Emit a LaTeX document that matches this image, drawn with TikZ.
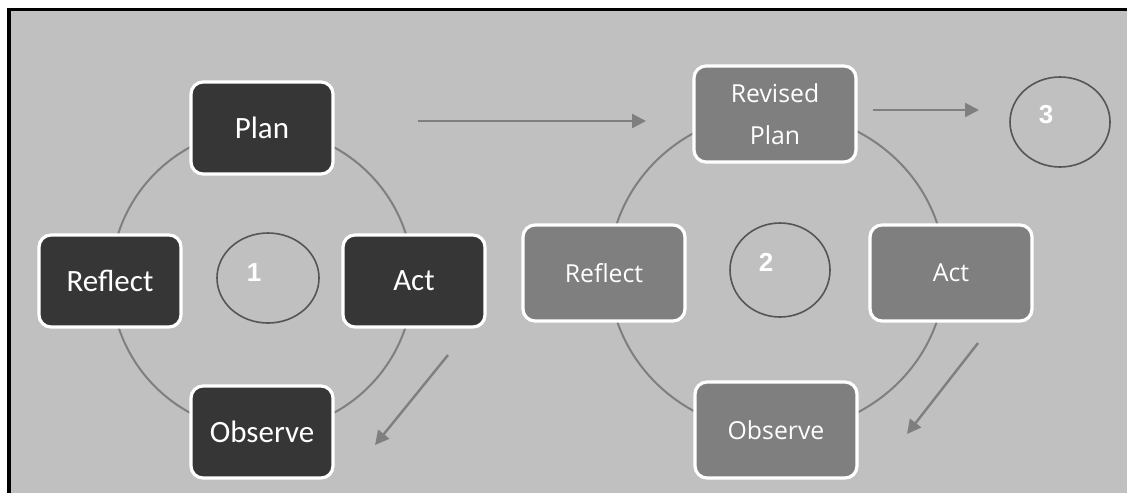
\documentclass[tikz,border=0pt]{standalone}
\usepackage{fontspec}
\setmainfont{Carlito}
\newfontfamily\opensans{Open Sans}
\newfontfamily\numfont{Liberation Sans}
\usepackage{xcolor}
\usetikzlibrary{positioning,arrows.meta,shapes.geometric}

\definecolor{bggray}{HTML}{C0C0C0}
\definecolor{boxdark}{HTML}{363636}
\definecolor{boxmid}{HTML}{7F7F7F}
\definecolor{ringgray}{HTML}{7F7F7F}
\definecolor{numgray}{HTML}{555555}

\begin{document}
\begin{tikzpicture}[x=0.5pt,y=-0.5pt,
    ring/.style={draw=ringgray,line width=1pt},
    darkbox/.style={draw=white,line width=1.6pt,fill=boxdark,rounded corners=6pt,
      minimum width=71pt,minimum height=46pt,text=white,
      font=\fontsize{15.5}{18}\selectfont},
    midbox/.style={darkbox,fill=boxmid,minimum width=81pt,minimum height=48pt,
      align=center,font=\opensans\fontsize{12.4}{21}\selectfont},
    loopnum/.style={ellipse,draw=numgray,line width=0.8pt,inner sep=0pt},
    numlabel/.style={text=white,font=\numfont\bfseries\fontsize{13}{15}\selectfont},
    flow/.style={draw=ringgray,line width=1.2pt,-{Triangle[length=7pt,width=7pt]}}]
  \useasboundingbox (0,0) rectangle (1127,493);

  % frame ----------------------------------------------------------------------
  \fill[white] (0,0) rectangle (1127,493);
  \fill[black] (7,8) rectangle (1127,493);
  \fill[bggray] (11,11) rectangle (1127,493);

  %----------------------------------------------------------------------------%
  %  first cycle  -------------------------------------------------------------%
  \draw[ring] (262,280) circle (75.5pt);

  \node[darkbox] (plan)    at (262,128) {Plan};
  \node[darkbox] (act)     at (414,281) {Act};
  \node[darkbox] (observe) at (262,432) {Observe};
  \node[darkbox] (reflect) at (110,281) {Reflect};

  \node[loopnum,minimum width=51pt,minimum height=45pt] (one) at (268,278) {};
  \node[numlabel] at (254,273) {1};

  \coordinate (down1s) at (448,355);
  \coordinate (down1e) at (375,445);
  \draw[flow] (down1s) -- (down1e);

  \coordinate (nexts) at (418,121);
  \coordinate (nexte) at (646,121);
  \draw[flow] (nexts) -- (nexte);

  %----------------------------------------------------------------------------%
  %  second cycle  ------------------------------------------------------------%
  \draw[ring] (777,272) ellipse [x radius=84pt,y radius=80pt];

  \node[midbox] (plan2)    at (775,114) {Revised\\Plan};
  \node[midbox] (act2)     at (951,273) {Act};
  \node[midbox] (observe2) at (776,430) {Observe};
  \node[midbox] (reflect2) at (604,273) {Reflect};

  \node[loopnum,minimum width=50pt,minimum height=47pt] (two) at (780,270) {};
  \node[numlabel] at (766,262) {2};

  \coordinate (down2s) at (978,343);
  \coordinate (down2e) at (907,434);
  \draw[flow] (down2s) -- (down2e);

  \coordinate (thirds) at (873,110);
  \coordinate (thirde) at (979,110);
  \draw[flow] (thirds) -- (thirde);

  %----------------------------------------------------------------------------%
  %  third cycle  -------------------------------------------------------------%
  \node[loopnum,minimum width=50pt,minimum height=45pt] (three) at (1060,122) {};
  \node[numlabel] at (1046,115) {3};
\end{tikzpicture}
\end{document}
